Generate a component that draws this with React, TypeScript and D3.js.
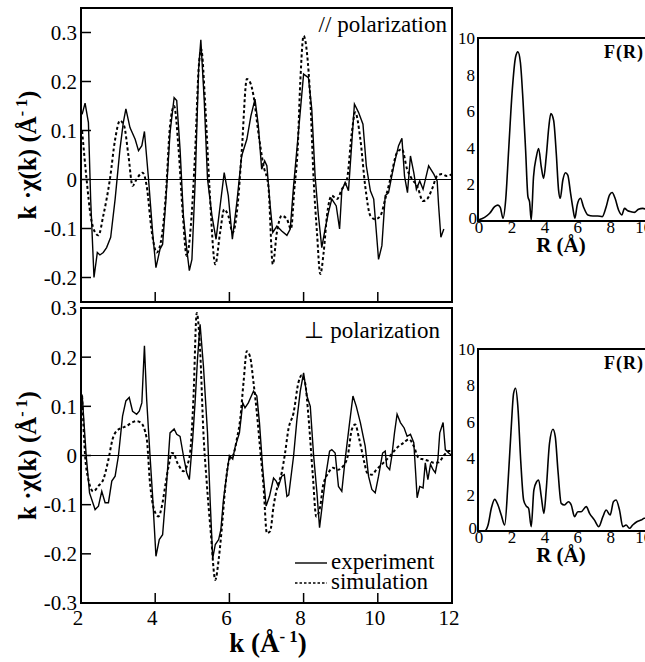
import React from 'react';
import * as d3 from 'd3';

// k (1/Å) and k·χ(k) pairs
const parExperiment: [number, number][] = [
  [2.03, 0.133], [2.11, 0.156], [2.2, 0.116], [2.26, -0.04], [2.35, -0.2], [2.44, -0.149],
  [2.51, -0.154], [2.6, -0.149], [2.69, -0.139], [2.8, -0.118], [2.92, -0.04], [3.05, 0.062],
  [3.14, 0.116], [3.21, 0.144], [3.32, 0.106], [3.46, 0.082], [3.55, 0.059], [3.64, 0.069],
  [3.71, 0.098], [3.82, 0.001], [3.93, -0.108], [4.02, -0.18], [4.13, -0.142], [4.2, -0.132],
  [4.29, -0.04], [4.4, 0.096], [4.51, 0.167], [4.58, 0.161], [4.67, 0.062], [4.76, -0.074],
  [4.85, -0.142], [4.92, -0.186], [4.99, -0.163], [5.08, 0.001], [5.17, 0.225], [5.23, 0.285],
  [5.32, 0.164], [5.41, 0.001], [5.53, -0.074], [5.64, -0.122], [5.75, -0.054], [5.86, 0.014],
  [5.97, -0.033], [6.08, -0.122], [6.2, -0.047], [6.33, 0.048], [6.47, 0.082], [6.58, 0.13],
  [6.69, 0.164], [6.78, 0.11], [6.87, 0.021], [6.95, 0.038], [7.01, 0.028], [7.1, -0.054],
  [7.17, -0.108], [7.28, -0.095], [7.41, -0.105], [7.55, -0.114], [7.64, -0.101], [7.73, -0.013],
  [7.86, 0.096], [8.0, 0.215], [8.13, 0.208], [8.22, 0.144], [8.31, 0.007], [8.4, -0.074],
  [8.49, -0.139], [8.58, -0.101], [8.67, -0.067], [8.76, -0.04], [8.88, -0.054], [8.97, -0.101],
  [9.03, -0.023], [9.12, -0.006], [9.21, -0.023], [9.3, 0.076], [9.37, 0.154], [9.48, 0.137],
  [9.6, 0.113], [9.69, 0.028], [9.8, -0.023], [9.89, -0.04], [10.02, -0.163], [10.11, -0.135],
  [10.2, -0.033], [10.29, -0.027], [10.43, 0.028], [10.56, 0.069], [10.65, 0.084], [10.72, 0.007],
  [10.8, -0.027], [10.88, 0.048], [10.97, 0.014], [11.04, -0.02], [11.13, -0.003], [11.22, -0.02],
  [11.37, 0.028], [11.51, 0.011], [11.6, -0.003], [11.64, -0.054], [11.7, -0.118], [11.78, -0.101],
];

const parSimulation: [number, number][] = [
  [2.03, 0.099], [2.15, 0.001], [2.26, -0.074], [2.38, -0.108], [2.47, -0.114], [2.6, -0.074],
  [2.78, 0.001], [2.92, 0.082], [3.05, 0.12], [3.16, 0.11], [3.28, 0.048], [3.39, -0.013],
  [3.5, 0.001], [3.66, 0.014], [3.77, -0.013], [3.91, -0.108], [4.04, -0.149], [4.18, -0.115],
  [4.29, -0.027], [4.4, 0.11], [4.51, 0.15], [4.63, 0.062], [4.74, -0.067], [4.85, -0.156],
  [4.96, -0.095], [5.08, 0.062], [5.17, 0.225], [5.24, 0.266], [5.35, 0.15], [5.46, -0.013],
  [5.62, -0.173], [5.75, -0.108], [5.86, -0.061], [5.97, -0.074], [6.09, -0.108], [6.22, -0.054],
  [6.33, 0.055], [6.47, 0.205], [6.56, 0.198], [6.65, 0.171], [6.78, 0.096], [6.92, 0.028],
  [7.05, -0.013], [7.17, -0.173], [7.28, -0.108], [7.41, -0.074], [7.55, -0.081], [7.66, -0.101],
  [7.75, -0.02], [7.84, 0.062], [7.91, 0.198], [8.0, 0.293], [8.09, 0.259], [8.18, 0.164],
  [8.27, 0.001], [8.36, -0.108], [8.45, -0.193], [8.54, -0.149], [8.63, -0.074], [8.76, -0.033],
  [8.9, -0.04], [9.03, -0.02], [9.17, 0.001], [9.3, 0.096], [9.39, 0.137], [9.53, 0.082],
  [9.66, -0.013], [9.8, -0.074], [9.93, -0.081], [10.07, -0.074], [10.2, -0.04], [10.34, 0.001],
  [10.52, 0.055], [10.65, 0.062], [10.79, 0.021], [10.92, 0.001], [11.06, -0.013], [11.22, -0.044],
  [11.33, -0.04], [11.46, -0.02], [11.6, 0.007], [11.73, 0.011], [11.86, 0.007], [12.0, 0.011],
];

const perpExperiment: [number, number][] = [
  [2.03, 0.124], [2.14, 0.0], [2.23, -0.076], [2.38, -0.11], [2.47, -0.103], [2.56, -0.073],
  [2.65, -0.096], [2.74, -0.096], [2.83, -0.052], [2.92, -0.042], [3.01, 0.0], [3.12, 0.08],
  [3.21, 0.111], [3.3, 0.118], [3.39, 0.09], [3.5, 0.084], [3.57, 0.09], [3.64, 0.107],
  [3.71, 0.223], [3.77, 0.114], [3.86, 0.0], [3.93, -0.083], [4.02, -0.205], [4.11, -0.171],
  [4.2, -0.161], [4.29, -0.076], [4.4, 0.046], [4.51, 0.054], [4.58, 0.043], [4.67, 0.039],
  [4.76, 0.0], [4.85, -0.035], [4.92, -0.049], [5.01, 0.033], [5.08, 0.114], [5.14, 0.196],
  [5.21, 0.267], [5.3, 0.182], [5.41, 0.046], [5.48, -0.09], [5.55, -0.209], [5.62, -0.181],
  [5.71, -0.171], [5.77, -0.151], [5.84, -0.09], [5.91, -0.049], [6.0, 0.0], [6.09, -0.007],
  [6.15, 0.016], [6.27, 0.046], [6.36, 0.107], [6.42, 0.097], [6.51, 0.107], [6.65, 0.131],
  [6.74, 0.121], [6.81, 0.067], [6.9, -0.029], [6.99, -0.103], [7.08, -0.083], [7.19, -0.046],
  [7.26, -0.052], [7.32, -0.063], [7.41, -0.042], [7.48, -0.039], [7.55, -0.083], [7.6, -0.08],
  [7.73, -0.001], [7.82, 0.073], [7.91, 0.131], [8.0, 0.168], [8.09, 0.121], [8.18, 0.1],
  [8.27, 0.0], [8.36, -0.076], [8.43, -0.147], [8.52, -0.09], [8.61, -0.035], [8.7, 0.009],
  [8.76, 0.012], [8.85, 0.005], [8.94, -0.063], [9.03, -0.073], [9.12, -0.008], [9.24, 0.067],
  [9.33, 0.121], [9.42, 0.1], [9.53, 0.067], [9.66, 0.019], [9.75, -0.042], [9.84, -0.069],
  [9.93, -0.076], [10.02, -0.042], [10.13, 0.005], [10.2, 0.009], [10.24, -0.022], [10.32, -0.029],
  [10.38, 0.0], [10.45, 0.046], [10.52, 0.084], [10.61, 0.067], [10.71, 0.056], [10.79, 0.039],
  [10.88, 0.043], [10.97, 0.026], [11.02, -0.035], [11.06, -0.086], [11.13, -0.063], [11.22, -0.066],
  [11.28, -0.015], [11.35, -0.049], [11.42, -0.018], [11.49, -0.029], [11.55, -0.035], [11.62, -0.008],
  [11.67, 0.046], [11.76, 0.067], [11.82, 0.012], [11.91, 0.005], [12.0, 0.0],
];

const perpSimulation: [number, number][] = [
  [2.03, 0.121], [2.11, 0.0], [2.2, -0.049], [2.33, -0.073], [2.47, -0.062], [2.6, -0.049],
  [2.74, -0.008], [2.85, 0.033], [2.96, 0.05], [3.1, 0.056], [3.23, 0.06], [3.37, 0.067],
  [3.5, 0.07], [3.61, 0.067], [3.77, 0.035], [3.86, -0.056], [3.97, -0.11], [4.09, -0.124],
  [4.18, -0.103], [4.27, -0.062], [4.36, -0.022], [4.45, 0.005], [4.51, 0.004], [4.56, -0.008],
  [4.65, -0.022], [4.76, -0.032], [4.85, -0.022], [4.94, 0.005], [5.03, 0.114], [5.12, 0.29],
  [5.21, 0.215], [5.3, 0.046], [5.39, -0.056], [5.5, -0.158], [5.62, -0.253], [5.71, -0.212],
  [5.8, -0.144], [5.89, -0.063], [6.0, -0.008], [6.11, 0.002], [6.2, 0.033], [6.29, 0.073],
  [6.38, 0.148], [6.47, 0.212], [6.56, 0.2], [6.65, 0.148], [6.74, 0.087], [6.83, 0.012],
  [6.92, -0.063], [7.01, -0.158], [7.1, -0.154], [7.19, -0.103], [7.3, -0.062], [7.41, -0.035],
  [7.5, 0.005], [7.59, 0.053], [7.73, 0.087], [7.86, 0.148], [7.95, 0.163], [8.04, 0.148],
  [8.13, 0.08], [8.25, -0.042], [8.34, -0.124], [8.45, -0.103], [8.52, -0.063], [8.67, -0.035],
  [8.79, -0.025], [8.92, -0.029], [9.06, -0.022], [9.19, -0.001], [9.3, 0.053], [9.39, 0.063],
  [9.5, 0.033], [9.64, -0.015], [9.71, -0.035], [9.84, -0.039], [9.96, -0.029], [10.15, -0.015],
  [10.34, 0.0], [10.52, 0.016], [10.7, 0.026], [10.84, 0.033], [10.97, 0.019], [11.1, -0.005],
  [11.24, -0.008], [11.37, -0.011], [11.51, -0.015], [11.64, -0.014], [11.78, 0.0], [11.91, 0.009],
  [12.0, 0.009],
];

// R (Å) and |F(R)| of the Fourier transforms
const parFT: [number, number][] = [
  [0.0, 0.05], [0.4, 0.2], [0.71, 0.42], [1.01, 0.78], [1.21, 0.87], [1.35, 0.75], [1.52, 0.15],
  [1.68, 1.15], [1.86, 3.87], [2.08, 7.15], [2.28, 8.96], [2.42, 9.24], [2.57, 8.69], [2.73, 6.6],
  [2.89, 3.87], [3.03, 1.33], [3.13, 1.05], [3.23, 0.05], [3.37, 2.42], [3.54, 3.5], [3.68, 3.96],
  [3.84, 2.96], [3.98, 2.33], [4.14, 3.5], [4.3, 5.15], [4.42, 5.87], [4.59, 5.5], [4.75, 3.7],
  [4.89, 1.69], [4.99, 1.24], [5.15, 2.24], [5.31, 2.64], [5.45, 2.51], [5.62, 1.51], [5.76, 0.69],
  [5.88, 0.15], [6.02, 0.87], [6.22, 1.24], [6.4, 0.78], [6.67, 0.33], [6.97, 0.27], [7.27, 0.27],
  [7.54, 0.24], [7.78, 0.78], [7.98, 1.42], [8.14, 1.56], [8.32, 1.24], [8.53, 0.6], [8.73, 0.33],
  [8.89, 0.69], [9.09, 0.56], [9.29, 0.51], [9.49, 0.47], [9.74, 0.64], [10.0, 0.69], [10.3, 0.6],
];

const perpFT: [number, number][] = [
  [0.0, 0.0], [0.4, 0.0], [0.61, 0.33], [0.81, 1.25], [1.01, 1.74], [1.21, 1.43], [1.41, 0.88],
  [1.62, 0.33], [1.82, 2.62], [2.02, 5.73], [2.16, 7.56], [2.28, 7.84], [2.42, 6.83], [2.59, 3.9],
  [2.77, 1.7], [2.93, 1.37], [3.07, 1.25], [3.23, 0.24], [3.39, 2.25], [3.56, 2.71], [3.68, 2.8],
  [3.84, 1.89], [4.0, 0.97], [4.14, 2.25], [4.34, 4.82], [4.55, 5.59], [4.69, 5.18], [4.85, 3.35],
  [5.05, 1.52], [5.25, 1.43], [5.49, 1.61], [5.66, 1.43], [5.86, 0.79], [6.06, 1.06], [6.26, 1.06],
  [6.57, 1.34], [6.77, 0.97], [7.07, 0.6], [7.33, 0.24], [7.58, 0.79], [7.78, 1.15], [8.02, 0.88],
  [8.22, 1.61], [8.38, 1.7], [8.59, 1.15], [8.79, 0.24], [8.99, 0.33], [9.19, 0.15], [9.39, 0.33],
  [9.64, 0.51], [9.9, 0.6], [10.1, 0.7], [10.3, 0.65],
];

const topChiTicks = [0.3, 0.2, 0.1, 0, -0.1, -0.2];
const bottomChiTicks = [0.3, 0.2, 0.1, 0, -0.1, -0.2, -0.3];
const kTicks = [2, 4, 6, 8, 10, 12];
const rTicks = [0, 2, 4, 6, 8, 10];
const fTicks = [0, 2, 4, 6, 8, 10];

// style helper, the serif face is set on each text element
const tf = (size: number, bold = false) => ({
  fontFamily: 'Liberation Serif', fontSize: size, fontWeight: bold ? 'bold' : 'normal',
});

const fmtChi = (v: number) => (v === 0 ? '0' : v.toFixed(1));

function ChiPanel({ top, bottom, domain, ticks, experiment, simulation, title, showXLabels, showLegend }: any) {
  const x = d3.scaleLinear().domain([2, 12]).range([81, 452]);
  const y = d3.scaleLinear().domain(domain).range([bottom, top]);
  const solid = d3.line<[number, number]>().x(d => x(d[0])).y(d => y(d[1]));
  const smooth = d3.line<[number, number]>().x(d => x(d[0])).y(d => y(d[1])).curve(d3.curveMonotoneX);
  const clipId = `clip-${top}`;
  return (
    <g>
      <defs>
        <clipPath id={clipId}>
          <rect x={81} y={top} width={371} height={bottom - top} />
        </clipPath>
      </defs>
      <line x1={81} x2={452} y1={y(0)} y2={y(0)} stroke="#000" strokeWidth={1.2} />
      <g clipPath={`url(#${clipId})`}>
        <path d={smooth(simulation) || ''} fill="none" stroke="#000" strokeWidth={2} strokeDasharray="3,2.5" />
        <path d={solid(experiment) || ''} fill="none" stroke="#000" strokeWidth={1.4} />
      </g>
      <rect x={81} y={top} width={371} height={bottom - top} fill="none" stroke="#000" strokeWidth={2} />
      {ticks.map((t: number) => (
        <g key={t}>
          <line x1={81} x2={91} y1={y(t)} y2={y(t)} stroke="#000" strokeWidth={1.5} />
          <text x={77} y={y(t)} dy="0.35em" textAnchor="end" style={tf(21)}>{fmtChi(t)}</text>
        </g>
      ))}
      {kTicks.slice(1, 5).map(t => (
        <line key={t} x1={x(t)} x2={x(t)} y1={bottom} y2={bottom - 10} stroke="#000" strokeWidth={1.5} />
      ))}
      {showXLabels && kTicks.map(t => (
        <text key={t} x={x(t) - 3} y={625} textAnchor="middle" style={tf(21)}>{t}</text>
      ))}
      <text x={title.x} y={title.y} textAnchor="end" style={tf(23)}>{title.text}</text>
      <text transform={`translate(36,${(top + bottom) / 2}) rotate(-90)`} textAnchor="middle" style={tf(25, true)}>
        k ·χ(k)  (Å<tspan dy={-9} style={tf(16, true)}>- 1</tspan><tspan dy={9}>)</tspan>
      </text>
      {showLegend && (
        <g>
          <line x1={295} x2={327} y1={563} y2={563} stroke="#000" strokeWidth={1.4} />
          <text x={331} y={569} style={tf(23)}>experiment</text>
          <line x1={295} x2={327} y1={583} y2={583} stroke="#000" strokeWidth={1.6} strokeDasharray="2.5,2" />
          <text x={331} y={589} style={tf(23)}>simulation</text>
        </g>
      )}
    </g>
  );
}

function FTPanel({ top, bottom, data }: any) {
  const x = d3.scaleLinear().domain([0, 10.5]).range([478, 651]);
  const y = d3.scaleLinear().domain([0, 10]).range([bottom, top]);
  const line = d3.line<[number, number]>().x(d => x(d[0])).y(d => y(d[1])).curve(d3.curveMonotoneX);
  return (
    <g>
      <path d={line(data) || ''} fill="none" stroke="#000" strokeWidth={1.6} />
      <rect x={478} y={top} width={173} height={bottom - top} fill="none" stroke="#000" strokeWidth={2} />
      {fTicks.map(t => (
        <text key={t} x={t === 0 ? 477 : 475} y={t === 0 ? y(t) - 3 : y(t)} dy="0.35em" textAnchor="end" style={tf(17)}>{t}</text>
      ))}
      {rTicks.map(t => (
        <text key={t} x={x(t) + 1} y={bottom + 12} textAnchor="middle" style={tf(17)}>{t}</text>
      ))}
      <text x={644} y={top + 20} textAnchor="end" style={{ ...tf(18, true), letterSpacing: 1 }}>F(R)</text>
      <text x={561} y={bottom + 31} textAnchor="middle" style={tf(21, true)}>R  (Å)</text>
    </g>
  );
}

export default function App() {
  return (
    <svg width={645} height={662} style={{ position: 'absolute', left: 0, top: 0, background: '#fff' }}>
      <ChiPanel top={8} bottom={302} domain={[-0.25, 0.35]} ticks={topChiTicks}
        experiment={parExperiment} simulation={parSimulation}
        title={{ text: '// polarization', x: 447, y: 32 }} showXLabels={false} showLegend={false} />
      <ChiPanel top={308} bottom={603} domain={[-0.3, 0.3]} ticks={bottomChiTicks}
        experiment={perpExperiment} simulation={perpSimulation}
        title={{ text: '⊥ polarization', x: 440, y: 338 }} showXLabels={true} showLegend={true} />
      <text x={268} y={652} textAnchor="middle" style={tf(27, true)}>
        k  (Å<tspan dy={-10} style={tf(17, true)}>- 1</tspan><tspan dy={10}>)</tspan>
      </text>
      <FTPanel top={38} bottom={221} data={parFT} />
      <FTPanel top={349} bottom={531} data={perpFT} />
    </svg>
  );
}
